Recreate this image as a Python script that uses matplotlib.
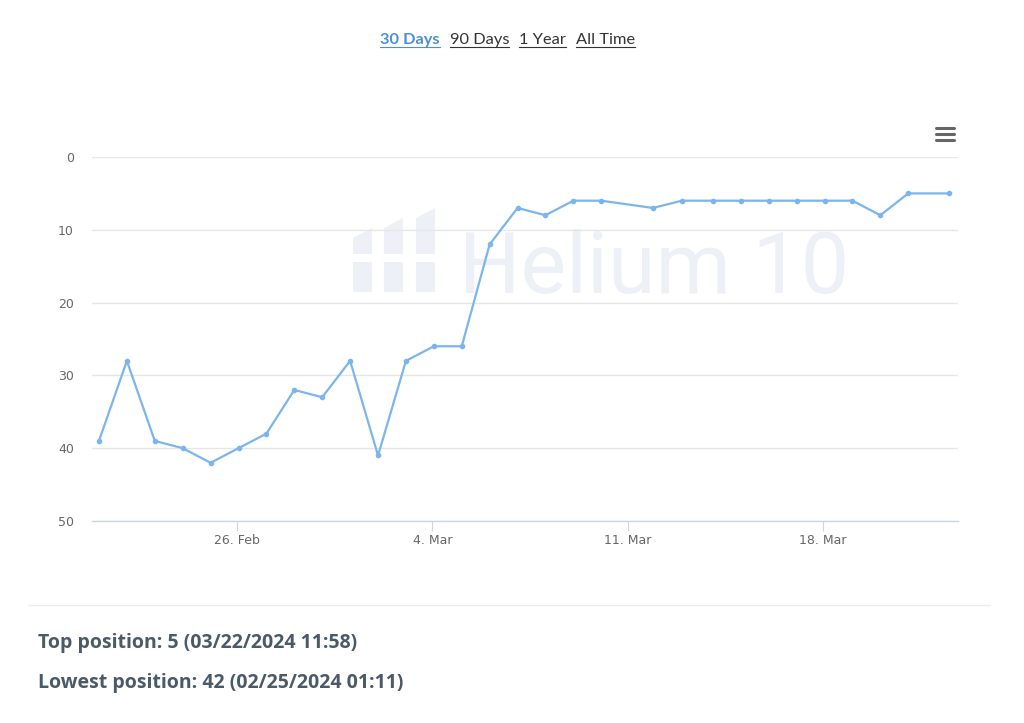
import matplotlib
matplotlib.use("Agg")
import matplotlib.pyplot as plt
import matplotlib.dates as mdates
from matplotlib.lines import Line2D
from matplotlib.patches import Polygon
import pandas as pd

# rank history (lower is better)
timestamps = [
    "2024-02-21 01:11", "2024-02-22 01:11", "2024-02-23 01:11", "2024-02-24 01:11",
    "2024-02-25 01:11", "2024-02-26 01:11", "2024-02-27 01:11", "2024-02-28 01:11",
    "2024-02-29 01:11", "2024-03-01 01:11", "2024-03-02 01:11", "2024-03-03 01:11",
    "2024-03-04 01:11", "2024-03-05 01:11", "2024-03-06 01:11", "2024-03-07 01:11",
    "2024-03-08 01:11", "2024-03-09 01:11", "2024-03-10 01:11", "2024-03-11 21:30",
    "2024-03-12 22:30", "2024-03-14 01:11", "2024-03-15 01:11", "2024-03-16 01:11",
    "2024-03-17 01:11", "2024-03-18 01:11", "2024-03-19 01:11", "2024-03-20 01:11",
    "2024-03-21 01:11", "2024-03-22 11:58",
]
positions = [39, 28, 39, 40, 42, 40, 38, 32, 33, 28, 41, 28, 26, 26, 12, 7, 8, 6, 6, 7,
             6, 6, 6, 6, 6, 6, 6, 8, 5, 5]
y_ticks = [0, 10, 20, 30, 40, 50]
range_buttons = ["30 Days", "90 Days", "1 Year", "All Time"]
summary_lines = ["Top position: 5 (03/22/2024 11:58)",
                 "Lowest position: 42 (02/25/2024 01:11)"]

W, H = 1024, 723


def px(x, y):
    """pixel position -> figure fraction"""
    return x / W, 1 - y / H


dates = pd.to_datetime(timestamps)

fig = plt.figure(figsize=(W / 100, H / 100), dpi=100)
fig.patch.set_facecolor("white")
ax = fig.add_axes([92 / W, 1 - 521 / H, (958 - 92) / W, (521 - 157) / H])

# watermark behind the grid
wm_color = "#edf0f6"
ax.text(*px(459, 293), "Helium 10", transform=fig.transFigure, fontsize=62,
        family="Roboto", color=wm_color, ha="left", va="baseline", zorder=0.2,
        clip_on=False)
for x0, dy in [(353, 0), (384, -10), (416, -20)]:
    top = Polygon([px(x0, 238 + dy), px(x0 + 19, 228 + dy), px(x0 + 19, 254),
                   px(x0, 254)], closed=True, transform=fig.transFigure,
                  facecolor=wm_color, edgecolor="none", zorder=0.2)
    bot = Polygon([px(x0, 262), px(x0 + 19, 262), px(x0 + 19, 292), px(x0, 292)],
                  closed=True, transform=fig.transFigure,
                  facecolor=wm_color, edgecolor="none", zorder=0.2)
    ax.add_patch(top)
    ax.add_patch(bot)

ax.plot(dates, positions, color="#7cb5ec", lw=1.6, marker="o", markersize=3,
        zorder=3)

ax.set_ylim(50, 0)
ax.set_yticks(y_ticks)
ax.set_xlim(dates[0] - pd.Timedelta(hours=6), dates[-1] + pd.Timedelta(hours=8))
ax.xaxis.set_major_locator(mdates.WeekdayLocator(byweekday=mdates.MO))
ax.xaxis.set_major_formatter(mdates.DateFormatter("%-d. %b"))

ax.set_axisbelow(True)
ax.grid(axis="y", color="#e6e6e6", lw=1)
for side in ["top", "left", "right"]:
    ax.spines[side].set_visible(False)
ax.spines["bottom"].set_color("#ccd6eb")
ax.spines["bottom"].set_linewidth(1)
ax.tick_params(axis="y", length=0, pad=13, labelsize=9, labelcolor="#666666")
ax.tick_params(axis="x", length=7, width=0.8, color="#ccd6eb", pad=2.5,
               labelsize=9, labelcolor="#666666")

# hamburger menu
for yy in [128, 134, 140]:
    (x1, y1), (x2, _) = px(936, yy), px(954, yy)
    fig.add_artist(Line2D([x1, x2], [y1, y1], color="#666666", lw=2.2,
                          solid_capstyle="round"))

# range buttons with underline
fig.canvas.draw()
renderer = fig.canvas.get_renderer()
bx = 380
for i, label in enumerate(range_buttons):
    active = i == 0
    colour = "#4a90d9" if active else "#333333"
    t = fig.text(*px(bx, 44), label, family="Lato", fontsize=11.8,
                 fontweight="bold" if active else "normal", color=colour,
                 ha="left", va="baseline")
    bb = t.get_window_extent(renderer)
    fig.add_artist(Line2D([bb.x0 / W, bb.x1 / W], [1 - 47 / H, 1 - 47 / H],
                          color=colour, lw=0.8))
    bx = bb.x1 + 10

# separator and summary
fig.add_artist(Line2D([28 / W, 990 / W], [1 - 605 / H, 1 - 605 / H],
                      color="#ececec", lw=1))
for yy, line in zip([648, 688], summary_lines):
    fig.text(*px(38, yy), line, family="Open Sans", fontsize=14,
             fontweight="bold", color="#4b5a69", ha="left", va="baseline")

fig.savefig("out.png", dpi=100, facecolor="white")
